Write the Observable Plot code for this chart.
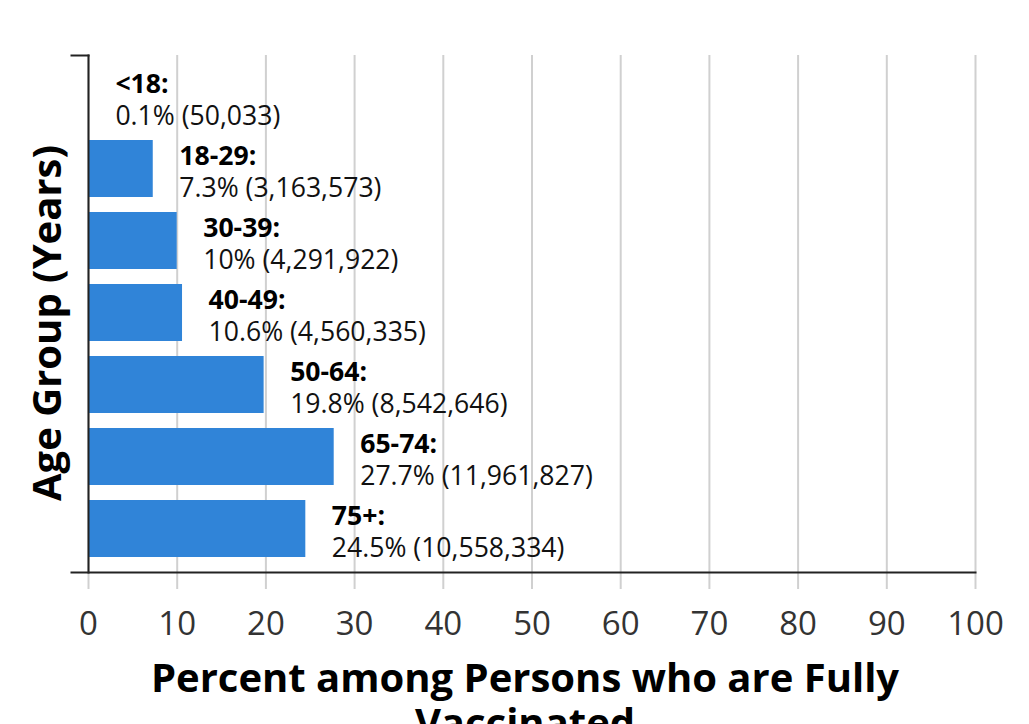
<!DOCTYPE html>
<html>
<head>
<meta charset="utf-8">
<script src="https://cdn.jsdelivr.net/npm/d3@7"></script>
<script src="https://cdn.jsdelivr.net/npm/@observablehq/plot@0.6"></script>
<style>
  html, body { margin: 0; padding: 0; background: #fff; }
  #chart svg { display: block; }
</style>
</head>
<body>
<div id="chart"></div>
<script>
// Share of fully vaccinated people by age group
const ageGroups = ["<18", "18-29", "30-39", "40-49", "50-64", "65-74", "75+"];
const percents = [0.1, 7.3, 10, 10.6, 19.8, 27.7, 24.5];
const counts = [50033, 3163573, 4291922, 4560335, 8542646, 11961827, 10558334];
const xTicks = [0, 10, 20, 30, 40, 50, 60, 70, 80, 90, 100];

const xTitle = "Percent among Persons who are Fully\nVaccinated";
const yTitle = "Age Group (Years)";

const rows = ageGroups.map((age, i) => ({age, pct: percents[i], count: counts[i]}));
const fmt = d3.format(",");

const chart = Plot.plot({
  width: 1029,
  height: 724,
  marginLeft: 88,
  marginRight: 54,
  marginTop: 55,
  marginBottom: 152,
  style: {fontFamily: "'Open Sans', 'Noto Sans', sans-serif", background: "#fff", overflow: "visible"},
  x: {domain: [0, 100], ticks: xTicks},
  y: {domain: ageGroups, axis: null, paddingInner: 0.205, paddingOuter: 0.183, align: 0.46},
  marks: [
    Plot.gridX(xTicks, {stroke: "#d0d0d0", strokeOpacity: 1, strokeWidth: 2}),
    Plot.axisX(xTicks, {
      tickSize: 17, tickPadding: 22, stroke: "#d0d0d0", strokeWidth: 2,
      fill: "#333", fontSize: 33, label: null
    }),
    Plot.barX(rows, {x: "pct", y: "age", fill: "#3084d8"}),
    // axis lines
    Plot.frame({anchor: "bottom", insetLeft: -17, stroke: "#222", strokeWidth: 2}),
    Plot.frame({anchor: "left", stroke: "#222", strokeWidth: 2}),
    Plot.frame({anchor: "top", insetLeft: -17, insetRight: 887, stroke: "#222", strokeWidth: 2}),
    // bar labels: group name on top, share and count below
    Plot.text(rows, {
      x: "pct", y: "age", text: d => d.age + ":",
      dx: 26, dy: -4, lineAnchor: "bottom", textAnchor: "start",
      fontWeight: "bold", fontSize: 26.6, fill: "#000"
    }),
    Plot.text(rows, {
      x: "pct", y: "age", text: d => `${d.pct}% (${fmt(d.count)})`,
      dx: 26, dy: 28, lineAnchor: "bottom", textAnchor: "start",
      fontSize: 26.6, fill: "#111"
    }),
    // axis titles
    Plot.text([xTitle], {
      frameAnchor: "bottom", dy: 88, dx: -7, lineAnchor: "top", lineHeight: 1.125,
      textAnchor: "middle", fontSize: 40, fontWeight: "bold", fill: "#000"
    }),
    Plot.text([yTitle], {
      frameAnchor: "left", rotate: -90, dx: -28, dy: 9, lineAnchor: "bottom",
      textAnchor: "middle", fontSize: 40, fontWeight: "bold", fill: "#000"
    })
  ]
});

document.getElementById("chart").append(chart);
</script>
</body>
</html>
